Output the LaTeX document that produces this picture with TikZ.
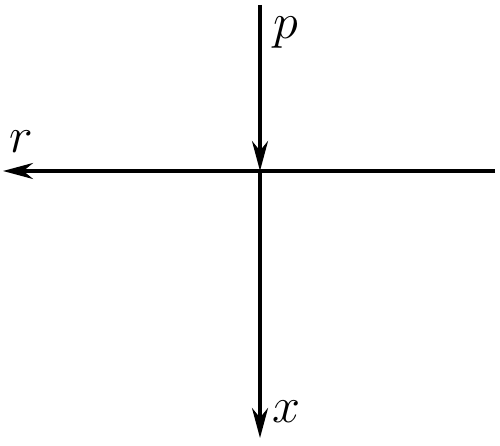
\documentclass[tikz,border=0pt]{standalone}
\usepackage{tikz}
\usetikzlibrary{arrows.meta}
\tikzset{axisline/.style={line width=0.7mm, -{Stealth[length=6mm,width=3.2mm]}},
	axislabel/.style={font=\Huge, scale=1.15, inner sep=0pt}}

\begin{document}
\begin{tikzpicture}
			%%%%% START %%%%%
			
			\useasboundingbox (0, 0) rectangle (10, 8.9);
			
			\coordinate (O) at (5.2, 5.48);
			\coordinate (ptop) at (5.2, 8.8);
			\coordinate (xend) at (5.2, 0.14);
			\coordinate (rend) at (0.06, 5.48);
			\coordinate (rstart) at (9.9, 5.48);
			
			\draw[axisline] (ptop) -- (O);
			\draw[axisline] (O) -- (xend);
			\draw[axisline] (rstart) -- (rend);
			
			\node[axislabel] (plabel) at (5.72, 8.24) {$p$};
			\node[axislabel] (rlabel) at (0.42, 6.06) {$r$};
			\node[axislabel] (xlabel) at (5.72, 0.66) {$x$};
			
			%%%%% END %%%%%
		\end{tikzpicture}
\end{document}
